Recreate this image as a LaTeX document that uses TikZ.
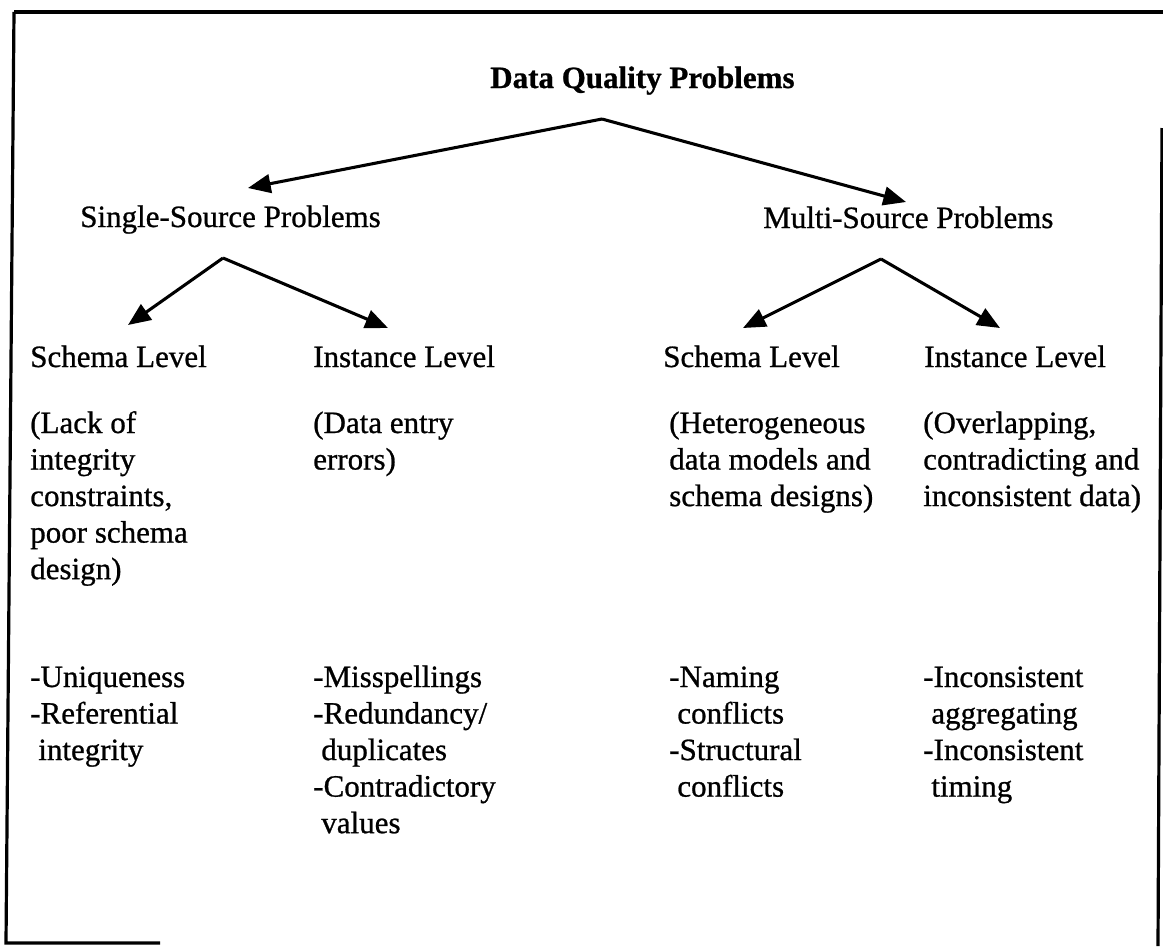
\documentclass[tikz,border=0pt]{standalone}
\usepackage{fontspec}
\setmainfont{Liberation Serif}[FakeBold=0.8]
\usetikzlibrary{arrows.meta}
% left-aligned multi-line block whose baseline is that of its first line
\newcommand\txtblock[1]{\begin{tabular}[t]{@{}l@{}}#1\end{tabular}}
\newcommand\ind{\hspace*{0.26em}}
\begin{document}
\begin{tikzpicture}[x=0.75pt,y=-0.75pt,
  lbl/.style={anchor=base west, inner sep=0pt, font=\fontsize{23.25}{27.4}\selectfont},
  head/.style={lbl, font=\fontsize{23.25}{27.4}\selectfont\bfseries},
  link/.style={line width=2.3pt, -{Triangle[length=17pt,width=14pt]}},
  frame/.style={line width=2.4pt}]
\useasboundingbox (0,0) rectangle (1163,946);

% outer frame
\draw[frame] (14,12) -- (1163,12);
\draw[frame] (14,12) -- (6,943) -- (160,943);
\draw[frame] (1162,128) -- (1158,946);

% root and the two problem families
\node[head] (dq) at (490,88) {Data Quality Problems};
\node[lbl] (ss) at (80,227) {Single-Source Problems};
\node[lbl] (ms) at (763,228) {Multi-Source Problems};

% level headings
\node[lbl] (ss-sch) at (30,367) {Schema Level};
\node[lbl] (ss-ins) at (313,367) {Instance Level};
\node[lbl] (ms-sch) at (663,367) {Schema Level};
\node[lbl] (ms-ins) at (924,367) {Instance Level};

% descriptions
\node[lbl] (ss-sch-d) at (30,433) {\txtblock{(Lack of\\integrity\\constraints,\\poor schema\\design)}};
\node[lbl] (ss-ins-d) at (313,433) {\txtblock{(Data entry\\errors)}};
\node[lbl] (ms-sch-d) at (669,433) {\txtblock{(Heterogeneous\\data models and\\schema designs)}};
\node[lbl] (ms-ins-d) at (923,433) {\txtblock{(Overlapping,\\contradicting and\\inconsistent data)}};

% examples
\node[lbl] (ss-sch-e) at (30,687) {\txtblock{-Uniqueness\\-Referential\\\ind integrity}};
\node[lbl] (ss-ins-e) at (313,687) {\txtblock{-Misspellings\\-Redundancy/\\\ind duplicates\\-Contradictory\\\ind values}};
\node[lbl] (ms-sch-e) at (669,687) {\txtblock{-Naming\\\ind conflicts\\-Structural\\\ind conflicts}};
\node[lbl] (ms-ins-e) at (923,687) {\txtblock{-Inconsistent\\\ind aggregating\\-Inconsistent\\\ind timing}};

% forks and arrow ends
\coordinate (dq-fork) at (602,119);
\coordinate (ss-in) at (248,188);
\coordinate (ms-in) at (906,202);
\coordinate (ss-fork) at (223,258);
\coordinate (ss-sch-in) at (128,325);
\coordinate (ss-ins-in) at (388,328);
\coordinate (ms-fork) at (881,259);
\coordinate (ms-sch-in) at (743,328);
\coordinate (ms-ins-in) at (1000,328);

\draw[link] (dq-fork) -- (ss-in);
\draw[link] (dq-fork) -- (ms-in);
\draw[link] (ss-fork) -- (ss-sch-in);
\draw[link] (ss-fork) -- (ss-ins-in);
\draw[link] (ms-fork) -- (ms-sch-in);
\draw[link] (ms-fork) -- (ms-ins-in);
\end{tikzpicture}
\end{document}
